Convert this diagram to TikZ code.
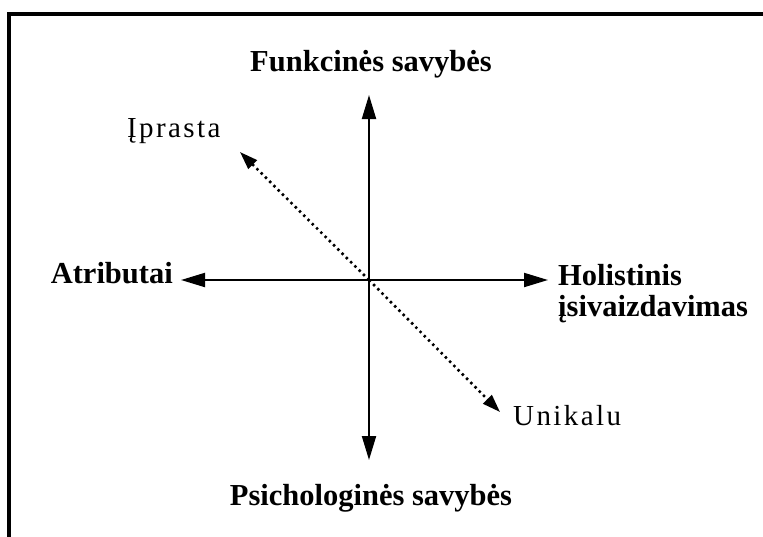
\documentclass[tikz,border=0pt]{standalone}
\usepackage{fontspec}
\setmainfont{Liberation Serif}
\usetikzlibrary{arrows.meta}
\tikzset{
  axis/.style={line width=2pt,-{Triangle[length=24pt,width=14pt]}},
  dotaxis/.style={line width=2.6pt,dash pattern=on 2.4pt off 3.6pt,-{Triangle[length=18pt,width=12pt]}},
  blabel/.style={font=\fontsize{30.5}{31}\selectfont\bfseries,inner sep=0pt},
  rlabel/.style={font=\fontsize{29}{30}\selectfont,inner sep=0pt},
}
\newcommand{\lsp}{\kern2.4pt}
\begin{document}
\begin{tikzpicture}[x=1pt,y=-1pt]
\useasboundingbox (0,0) rectangle (763,536);
\draw[line width=4pt,line join=miter] (8.5,540) -- (8.5,14) -- (770,14);
\coordinate (O) at (369,280);
\coordinate (T) at (369,95);
\coordinate (B) at (369,460);
\coordinate (L) at (181,280);
\coordinate (R) at (548,280);
\coordinate (UL) at (240,152);
\coordinate (DR) at (500,412);
\draw[axis] (O) -- (T);
\draw[axis] (O) -- (B);
\draw[axis] (O) -- (L);
\draw[axis] (O) -- (R);
\draw[dotaxis] (O) -- (UL);
\draw[dotaxis] (O) -- (DR);
\node[blabel,anchor=base] (fs) at (371,71) {Funkcinės savybės};
\node[blabel,anchor=base] (ps) at (371,505) {Psichologinės savybės};
\node[blabel,anchor=base east] (at) at (173,283) {Atributai};
\node[blabel,anchor=base west] (ho) at (558,285) {Holistinis};
\node[blabel,anchor=base west] (is) at (558,316) {įsivaizdavimas};
\node[rlabel,anchor=base west] (ip) at (127,137) {Į\lsp p\lsp r\lsp a\lsp s\lsp t\lsp a};
\node[rlabel,anchor=base west] (un) at (513,425) {U\lsp n\lsp i\lsp k\lsp a\lsp l\lsp u};
\end{tikzpicture}
\end{document}
